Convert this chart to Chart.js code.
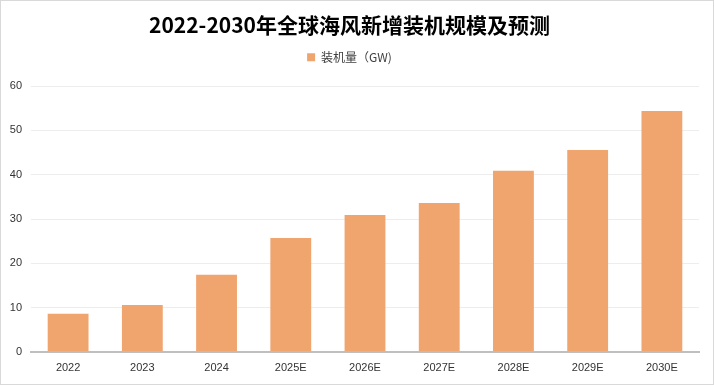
<!DOCTYPE html>
<html>
<head>
<meta charset="utf-8">
<script src="https://cdn.jsdelivr.net/npm/chart.js@4"></script>
<style>
html,body{margin:0;padding:0;background:#fff;}
#wrap{width:714px;height:385px;position:relative;}
</style>
</head>
<body>
<div id="wrap"><canvas id="c" width="714" height="385"></canvas></div>
<script>
const categories = ["2022","2023","2024","2025E","2026E","2027E","2028E","2029E","2030E"];
const installed = [8.6, 10.6, 17.4, 25.7, 30.9, 33.6, 40.9, 45.6, 54.4];
const yTicks = [0,10,20,30,40,50,60];
const seriesName = "装机量（GW)";
const titleText = "2022-2030年全球海风新增装机规模及预测";

const framePlugin = {
  id: 'frame',
  afterInit(chart){
    if (chart.legend && !chart.legend._patched) {
      const orig = chart.legend.fit;
      chart.legend.fit = function(){ orig.call(this); this.height += 13; };
      chart.legend._patched = true;
    }
  },
  beforeDraw(chart){
    const ctx = chart.ctx;
    ctx.save();
    ctx.fillStyle = '#fff';
    ctx.fillRect(0,0,chart.width,chart.height);
    ctx.restore();
  },
  afterDraw(chart){
    const ctx = chart.ctx;
    ctx.save();
    ctx.strokeStyle = '#d9d9d9';
    ctx.lineWidth = 1;
    ctx.strokeRect(0.5,0.5,chart.width-1,chart.height-1);
    ctx.restore();
  }
};

new Chart(document.getElementById('c'), {
  type: 'bar',
  data: {
    labels: categories,
    datasets: [{
      label: seriesName,
      data: installed,
      backgroundColor: '#F0A46E',
      categoryPercentage: 1.0,
      barPercentage: 0.55
    }]
  },
  options: {
    responsive: false,
    animation: false,
    devicePixelRatio: 1,
    layout: { padding: { left: 0, right: 15, top: 0, bottom: 0 } },
    plugins: {
      title: {
        display: true,
        text: titleText,
        color: '#000',
        font: { family: "'Noto Sans CJK SC', sans-serif", size: 21, weight: 'bold' },
        padding: { top: 12, bottom: 4 }
      },
      legend: {
        display: true,
        labels: {
          boxWidth: 8, boxHeight: 8,
          color: '#404040',
          font: { family: "'Noto Sans CJK SC', sans-serif", size: 12 },
          padding: 10
        }
      },
      tooltip: { enabled: false }
    },
    scales: {
      x: {
        grid: { display: false, drawTicks: false },
        border: { display: true, color: '#bfbfbf', width: 2 },
        ticks: { color: '#333', font: { family: "'Liberation Sans', sans-serif", size: 11 }, padding: 10 }
      },
      y: {
        min: 0, max: 60,
        afterBuildTicks(scale){ scale.ticks = yTicks.map(v => ({value: v})); },
        afterFit(scale){ scale.width = 31; },
        grid: { color: '#ededed', drawTicks: false, lineWidth: 1 },
        border: { display: false },
        ticks: { color: '#333', font: { family: "'Liberation Sans', sans-serif", size: 11 }, padding: 9 }
      }
    }
  },
  plugins: [framePlugin]
});
</script>
</body>
</html>
